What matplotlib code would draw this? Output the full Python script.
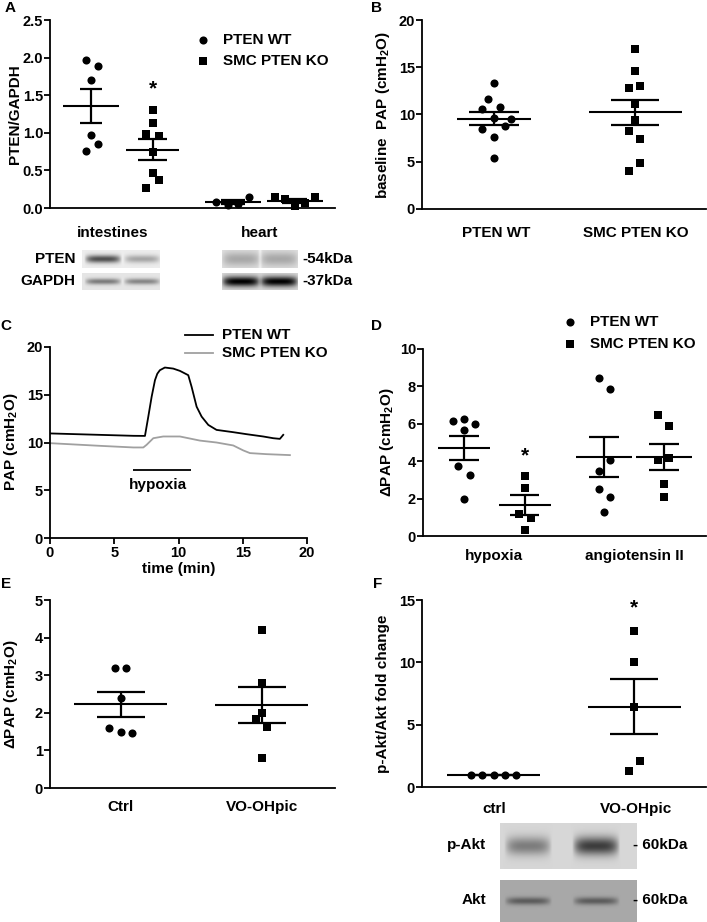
import matplotlib
matplotlib.use('Agg')
import matplotlib.pyplot as plt
import numpy as np

W, H = 707, 922

plt.rcParams['font.family'] = ['Liberation Sans', 'DejaVu Sans']
plt.rcParams['font.weight'] = 'bold'
plt.rcParams['axes.labelweight'] = 'bold'
plt.rcParams['mathtext.fontset'] = 'custom'
plt.rcParams['mathtext.rm'] = 'Liberation Sans:bold'
plt.rcParams['mathtext.it'] = 'Liberation Sans:bold'
plt.rcParams['mathtext.bf'] = 'Liberation Sans:bold'

# ---- data ----
# A: PTEN/GAPDH
a_groups = ['intestines', 'heart']
a_int_wt = [1.97, 1.89, 1.70, 0.97, 0.85, 0.76]
a_int_ko = [1.30, 1.13, 0.99, 0.96, 0.74, 0.46, 0.37, 0.27]
a_heart_wt = [0.08, 0.04, 0.05, 0.15]
a_heart_ko = [0.15, 0.12, 0.05, 0.02, 0.06, 0.15]

# B: baseline PAP
b_groups = ['PTEN WT', 'SMC PTEN KO']
b_wt = [13.3, 11.6, 10.6, 10.8, 9.6, 9.5, 8.5, 8.8, 7.65, 5.4]
b_ko = [16.9, 14.6, 13.0, 12.8, 11.1, 9.4, 8.3, 7.4, 4.9, 4.05]

# C: PAP traces
c_wt_t = [0, 3.9, 6.5, 7.39, 7.65, 7.91, 8.17, 8.35, 8.55, 8.94, 9.59, 10.11, 10.76,
          11.02, 11.41, 11.8, 12.32, 12.96, 14.26, 15.3, 16.59, 17.37, 17.89, 18.15]
c_wt_v = [10.95, 10.8, 10.7, 10.69, 12.71, 14.79, 16.53, 17.2, 17.57, 17.85, 17.74, 17.5, 17.05,
          15.83, 13.75, 12.71, 11.84, 11.32, 11.08, 10.87, 10.63, 10.45, 10.38, 10.8]
c_ko_t = [0, 3.9, 6.5, 7.26, 7.52, 8.04, 8.81, 10.11, 11.67, 12.96, 14.26, 15.04, 15.56, 16.85, 18.67]
c_ko_v = [9.93, 9.65, 9.48, 9.48, 9.76, 10.45, 10.63, 10.63, 10.2, 10.0, 9.69, 9.17, 8.89, 8.78, 8.68]
c_hypoxia = [6.45, 11.0]

# D: delta PAP
d_groups = ['hypoxia', 'angiotensin II']
d_hyp_wt = [6.17, 6.26, 5.97, 5.67, 3.76, 3.26, 1.98]
d_hyp_ko = [3.2, 2.58, 1.18, 0.96, 0.32]
d_ang_wt = [8.47, 7.86, 4.06, 3.49, 2.5, 2.07, 1.3]
d_ang_ko = [6.47, 5.88, 4.06, 4.15, 2.76, 2.07]

# E: delta PAP, ctrl vs VO-OHpic
e_groups = ['Ctrl', 'VO-OHpic']
e_ctrl = [3.2, 3.2, 2.4, 1.6, 1.5, 1.45]
e_vo = [4.2, 2.8, 2.0, 1.83, 1.63, 0.8]

# F: p-Akt/Akt fold change
f_groups = ['ctrl', 'VO-OHpic']
f_ctrl = [1.0, 1.0, 1.0, 1.0, 1.0]
f_vo = [12.48, 10.0, 6.45, 2.05, 1.25]

# blot band darkness per lane
blot_int_pten = [0.62, 0.28]
blot_int_gapdh = [0.42, 0.38]
blot_heart_pten = [0.22, 0.22]
blot_heart_gapdh = [0.85, 0.85]
blot_pakt = [0.35, 0.6]
blot_akt = [0.3, 0.3]

fig = plt.figure(figsize=(W / 100, H / 100), dpi=100)


def add_ax(l, t, r, b):
    return fig.add_axes([l / W, 1 - b / H, (r - l) / W, (b - t) / H])


def style(ax, xlim, ylim, yticks, fmt=None):
    ax.set_xlim(xlim)
    ax.set_ylim(ylim)
    for s in ['top', 'right']:
        ax.spines[s].set_visible(False)
    for s in ['left', 'bottom']:
        ax.spines[s].set_linewidth(1.3)
    ax.set_yticks(yticks)
    if fmt:
        ax.set_yticklabels([fmt % v for v in yticks])
    ax.set_xticks([])
    ax.tick_params(axis='y', width=1.3, length=4, labelsize=10.5, pad=1)
    ax.patch.set_alpha(0)


def group(ax, x, vals, offs, marker, mean_hw, sem_hw):
    vals = np.array(vals)
    s = 34 if marker == 'o' else 30
    ax.scatter(x + np.array(offs), vals, marker=marker, s=s, color='black',
               linewidths=0, zorder=3, clip_on=False)
    m = vals.mean()
    sem = vals.std(ddof=1) / np.sqrt(len(vals))
    ax.hlines(m, x - mean_hw, x + mean_hw, color='black', lw=1.5, zorder=4)
    ax.hlines([m - sem, m + sem], x - sem_hw, x + sem_hw, color='black', lw=1.6, zorder=4)
    ax.vlines(x, m - sem, m + sem, color='black', lw=1.6, zorder=4)


# ---- A ----
axA = add_ax(50, 20, 335, 208)
style(axA, (-0.66, 3.95), (0, 2.5), [0, 0.5, 1.0, 1.5, 2.0, 2.5], '%.1f')
group(axA, 0, a_int_wt, [-0.08, 0.11, 0, 0, 0.11, -0.08], 'o', 0.45, 0.18)
group(axA, 1, a_int_ko, [0, 0, -0.1, 0.1, 0, 0, 0.1, -0.1], 's', 0.43, 0.24)
group(axA, 2.3, a_heart_wt, [-0.27, -0.08, 0.08, 0.26], 'o', 0.45, 0.2)
group(axA, 3.3, a_heart_ko, [-0.32, -0.16, 0, 0, 0.16, 0.32], 's', 0.45, 0.2)
axA.text(1, 1.58, '*', ha='center', va='center', fontsize=15)

# ---- B ----
axB = add_ax(422, 20, 706, 209)
style(axB, (-0.51, 1.50), (0, 20), [0, 5, 10, 15, 20])
group(axB, 0, b_wt, [0, -0.04, -0.083, 0.04, 0, 0.118, -0.083, 0.078, 0, 0], 'o', 0.26, 0.18)
group(axB, 1, b_ko, [0, 0, 0.035, -0.043, 0, 0, -0.043, 0.035, 0.035, -0.043], 's', 0.33, 0.17)

# ---- C ----
axC = add_ax(50, 347, 307, 538)
style(axC, (0, 20), (0, 20), [0, 5, 10, 15, 20])
axC.set_xticks([0, 5, 10, 15, 20])
axC.tick_params(axis='x', width=1.3, length=4, labelsize=10.5, pad=2)
axC.plot(c_ko_t, c_ko_v, color='#a0a0a0', lw=1.3)
axC.plot(c_wt_t, c_wt_v, color='black', lw=1.3)
axC.hlines(7.15, c_hypoxia[0], c_hypoxia[1], color='black', lw=1.3)
axC.text(np.mean(c_hypoxia) - 0.3, 5.6, 'hypoxia', ha='center', va='center', fontsize=11)
axC.set_xlabel('time (min)', fontsize=11, fontweight='bold', labelpad=1)

# ---- D ----
axD = add_ax(423, 349, 706, 536)
style(axD, (-0.67, 3.97), (0, 10), [0, 2, 4, 6, 8, 10])
group(axD, 0, d_hyp_wt, [-0.18, 0, 0.19, 0, -0.09, 0.1, 0], 'o', 0.43, 0.24)
group(axD, 1, d_hyp_ko, [0, 0, -0.1, 0.1, 0], 's', 0.43, 0.24)
group(axD, 2.3, d_ang_wt, [-0.09, 0.09, 0.09, -0.09, -0.09, 0.09, 0], 'o', 0.46, 0.25)
group(axD, 3.28, d_ang_ko, [-0.09, 0.09, -0.09, 0.09, 0, 0], 's', 0.46, 0.25)
axD.text(1, 4.3, '*', ha='center', va='center', fontsize=15)

# ---- E ----
axE = add_ax(50, 600, 335, 788)
style(axE, (-0.5, 1.52), (0, 5), [0, 1, 2, 3, 4, 5])
group(axE, 0, e_ctrl, [-0.04, 0.04, 0, -0.083, 0, 0.078], 'o', 0.33, 0.17)
group(axE, 1, e_vo, [0, 0, 0, -0.04, 0.04, 0], 's', 0.33, 0.17)

# ---- F ----
axF = add_ax(422, 600, 706, 787)
style(axF, (-0.51, 1.51), (0, 15), [0, 5, 10, 15])
group(axF, 0, f_ctrl, [-0.16, -0.08, 0, 0.08, 0.16], 'o', 0.33, 0.17)
group(axF, 1, f_vo, [0, 0, 0, 0.04, -0.04], 's', 0.33, 0.17)
axF.text(1, 14.4, '*', ha='center', va='center', fontsize=15)

# make sure tick labels come out bold
for ax in [axA, axB, axC, axD, axE, axF]:
    plt.setp(ax.get_xticklabels(), fontweight='bold')
    plt.setp(ax.get_yticklabels(), fontweight='bold')

# ---- overlay for labels, legends and blots ----
ov = fig.add_axes([0, 0, 1, 1])


def blot(x0, x1, y0, y1, bg, lanes, centers, halfw, th, seam=0.0):
    h, w = int((y1 - y0) * 3), int((x1 - x0) * 3)
    yy, xx = np.mgrid[0:h, 0:w]
    xx = x0 + xx / 3.0
    yy = yy / (h - 1.0)
    img = np.full((h, w), bg)
    for dark, cx in zip(lanes, centers):
        px = np.clip(1 - ((xx - cx) / halfw) ** 4, 0, 1)
        py = np.exp(-((yy - 0.5) / th) ** 2)
        img -= dark * px * py
    if seam:
        img += seam * np.exp(-((xx - (x0 + x1) / 2) / 1.5) ** 2)
    ov.imshow(np.clip(img, 0, 1), extent=(x0, x1, y1, y0), cmap='gray', vmin=0, vmax=1,
              aspect='auto', interpolation='bilinear', zorder=1)


blot(82, 160, 250, 268, 0.93, blot_int_pten, [103, 142], 19, 0.22)
blot(82, 160, 273, 290, 0.90, blot_int_gapdh, [103, 142], 19, 0.18)
blot(222, 298, 250, 268, 0.88, blot_heart_pten, [241, 279], 20, 0.4, seam=0.08)
blot(222, 298, 273, 290, 0.85, blot_heart_gapdh, [241, 279], 20, 0.3)
blot(500, 637, 823, 869, 0.84, blot_pakt, [528, 596], 24, 0.2)
blot(500, 637, 880, 922, 0.66, blot_akt, [528, 596], 24, 0.09)

ov.set_xlim(0, W)
ov.set_ylim(H, 0)
ov.axis('off')

fs = 11
# panel letters
for letter, (x, y) in zip('ABCDEF', [(10, 8), (377, 8), (6, 326), (377, 326), (6, 584), (378, 584)]):
    ov.text(x, y, letter, ha='center', va='center', fontsize=11)

# y labels
cm = r'(cmH$_2$O)'
ov.text(15, 114, 'PTEN/GAPDH', rotation=90, ha='center', va='center', fontsize=fs)
ov.text(383, 115, 'baseline  PAP ' + cm, rotation=90, ha='center', va='center', fontsize=fs)
ov.text(11, 442, 'PAP ' + cm, rotation=90, ha='center', va='center', fontsize=fs)
ov.text(387, 442, '\u0394PAP ' + cm, rotation=90, ha='center', va='center', fontsize=fs)
ov.text(11, 694, '\u0394PAP ' + cm, rotation=90, ha='center', va='center', fontsize=fs)
ov.text(383, 694, 'p-Akt/Akt fold change', rotation=90, ha='center', va='center', fontsize=fs)

# category labels
for txt, x, y in [(a_groups[0], 113, 233), (a_groups[1], 260, 233),
                  (b_groups[0], 496, 233), (b_groups[1], 636, 233),
                  (d_groups[0], 494, 556), (d_groups[1], 634, 556),
                  (e_groups[0], 120, 807), (e_groups[1], 262, 807),
                  (f_groups[0], 494, 809), (f_groups[1], 636, 809)]:
    ov.text(x, y, txt, ha='center', va='center', fontsize=fs)

# blot labels
ov.text(75, 259, 'PTEN', ha='right', va='center', fontsize=fs)
ov.text(75, 281, 'GAPDH', ha='right', va='center', fontsize=fs)
ov.text(302, 259, '-54kDa', ha='left', va='center', fontsize=fs)
ov.text(302, 281, '-37kDa', ha='left', va='center', fontsize=fs)
ov.text(486, 845, 'p-Akt', ha='right', va='center', fontsize=fs)
ov.text(486, 900, 'Akt', ha='right', va='center', fontsize=fs)
ov.text(633, 845, '- 60kDa', ha='left', va='center', fontsize=fs)
ov.text(633, 900, '- 60kDa', ha='left', va='center', fontsize=fs)

# legends
for (mx, my), mk, lab in [((203, 40), 'o', 'PTEN WT'), ((203, 61), 's', 'SMC PTEN KO'),
                          ((570, 322), 'o', 'PTEN WT'), ((570, 344), 's', 'SMC PTEN KO')]:
    ov.scatter([mx], [my], marker=mk, s=34 if mk == 'o' else 30, color='black', linewidths=0)
    ov.text(mx + 20, my, lab, ha='left', va='center', fontsize=fs)
ov.plot([185, 213], [335, 335], color='black', lw=1.3)
ov.plot([185, 213], [353, 353], color='#a0a0a0', lw=1.3)
ov.text(222, 335, 'PTEN WT', ha='left', va='center', fontsize=fs)
ov.text(222, 353, 'SMC PTEN KO', ha='left', va='center', fontsize=fs)

fig.savefig('out.png', dpi=100)
